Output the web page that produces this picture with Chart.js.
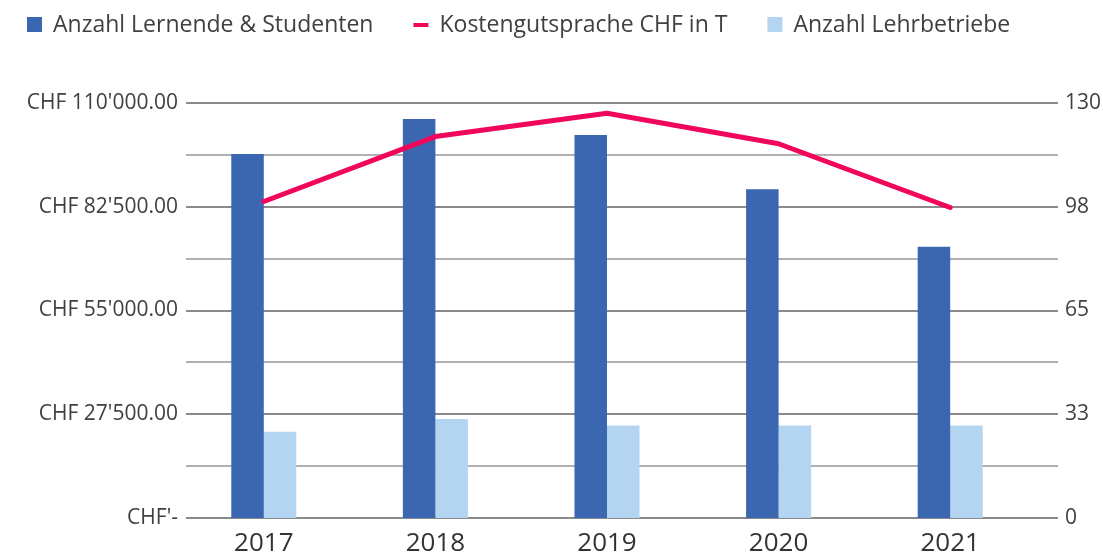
<!DOCTYPE html>
<html>
<head>
<meta charset="utf-8">
<script src="https://cdn.jsdelivr.net/npm/chart.js@4.4.1/dist/chart.umd.min.js"></script>
<style>
  html, body { margin: 0; padding: 0; background: #fff; }
  #wrap { width: 1103px; height: 555px; position: relative; }
</style>
</head>
<body>
<div id="wrap"><canvas id="chart" width="1103" height="555"></canvas></div>
<script>
const years = ["2017", "2018", "2019", "2020", "2021"];
const lernende = [114, 125, 120, 103, 85];
const lehrbetriebe = [27, 31, 29, 29, 29];
const kosten = [83900, 101100, 107300, 99200, 82300];
const leftLabels = ["CHF'-", "CHF 27'500.00", "CHF 55'000.00", "CHF 82'500.00", "CHF 110'000.00"];
const rightLabels = ["0", "33", "65", "98", "130"];
const seriesNames = ["Anzahl Lernende & Studenten", "Kostengutsprache CHF in T", "Anzahl Lehrbetriebe"];

const dark = "#3b66b0", light = "#b3d5f2", pink = "#f0065a";
const textColor = "#404040";
const font = "Open Sans";

// gridlines spanning a bit further than the bars
const gridPlugin = {
  id: "grid",
  beforeDatasetsDraw(chart) {
    const ctx = chart.ctx, y = chart.scales.y;
    ctx.save();
    y.ticks.forEach((t, i) => {
      const py = Math.round(y.getPixelForValue(t.value));
      ctx.strokeStyle = i % 2 === 0 ? "#8a8a8a" : "#b0b0b0";
      ctx.lineWidth = 2;
      ctx.beginPath();
      ctx.moveTo(186, py);
      ctx.lineTo(1058, py);
      ctx.stroke();
    });
    ctx.restore();
  }
};

const legendPlugin = {
  id: "ownLegend",
  afterDraw(chart) {
    const ctx = chart.ctx;
    const cy = 25;
    let x = 27;
    ctx.save();
    ctx.font = `23px "${font}"`;
    ctx.textBaseline = "middle";
    chart.data.datasets.forEach((ds) => {
      ctx.fillStyle = ds.type === "line" ? ds.borderColor : ds.backgroundColor;
      if (ds.type === "line") ctx.fillRect(x, cy - 2, 15, 4);
      else ctx.fillRect(x, cy - 8, 15, 15);
      x += 26;
      ctx.fillStyle = textColor;
      ctx.fillText(ds.label, x, cy);
      x += ctx.measureText(ds.label).width + 40;
    });
    ctx.restore();
  }
};

new Chart(document.getElementById("chart"), {
  data: {
    labels: years,
    datasets: [
      { type: "bar", label: seriesNames[0], data: lernende, backgroundColor: dark, yAxisID: "y1", order: 1 },
      { type: "line", label: seriesNames[1], data: kosten, borderColor: pink, backgroundColor: pink,
        borderWidth: 5, pointRadius: 0, tension: 0, borderCapStyle: "round", borderJoinStyle: "round",
        yAxisID: "y", order: 0 },
      { type: "bar", label: seriesNames[2], data: lehrbetriebe, backgroundColor: light, yAxisID: "y1", order: 1 }
    ]
  },
  options: {
    responsive: false,
    animation: false,
    devicePixelRatio: 1,
    layout: { padding: { top: 103, left: 0, right: 0, bottom: 0 } },
    datasets: { bar: { categoryPercentage: 0.379, barPercentage: 1 } },
    plugins: { legend: { display: false }, tooltip: { enabled: false } },
    scales: {
      x: {
        grid: { display: false, drawTicks: false },
        border: { display: false },
        ticks: { color: "#333", font: { family: font, size: 26, lineHeight: 0.615 }, padding: 18 },
        afterFit: (s) => { s.height = 37; }
      },
      y: {
        position: "left",
        min: 0, max: 110000,
        grid: { display: false, drawTicks: false },
        border: { display: false },
        ticks: {
          stepSize: 13750,
          color: textColor,
          font: { family: font, size: 21 },
          padding: 0,
          callback: (v) => (v % 27500 === 0 ? leftLabels[v / 27500] : "")
        },
        afterFit: (s) => { s.width = 178; }
      },
      y1: {
        position: "right",
        min: 0, max: 130,
        grid: { display: false, drawTicks: false },
        border: { display: false },
        ticks: {
          stepSize: 32.5,
          color: textColor,
          font: { family: font, size: 21, lineHeight: 0.5 },
          padding: 29,
          callback: (v) => rightLabels[Math.round(v / 32.5)]
        },
        afterFit: (s) => { s.width = 67; }
      }
    }
  },
  plugins: [gridPlugin, legendPlugin]
});
</script>
</body>
</html>
